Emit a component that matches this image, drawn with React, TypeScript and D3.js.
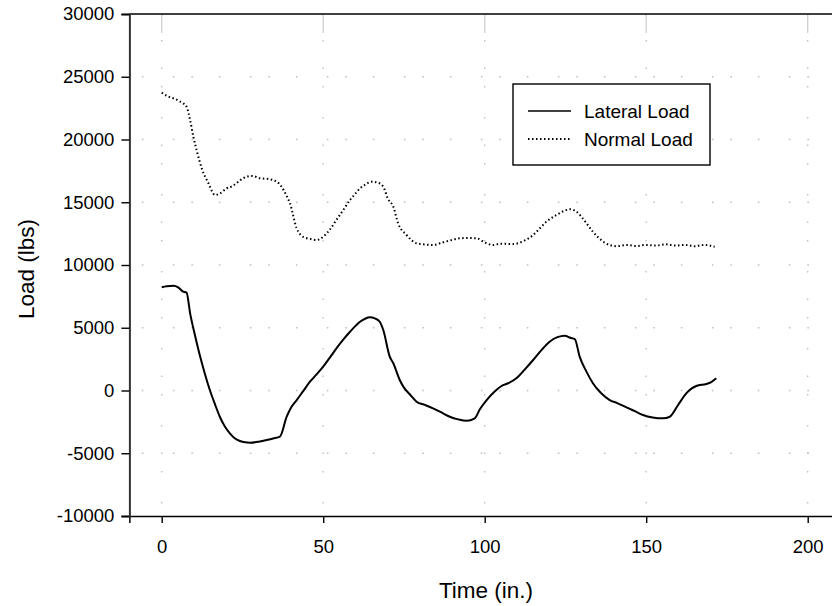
import React, { useEffect, useRef } from "react";
import * as d3 from "d3";

// readings
const timeLateral = [
  0, 1.5, 3.6, 5.1, 6.5, 7.7, 8.8, 10.3, 11.9, 13.4, 14.9, 16.5, 18, 19.5, 21.1, 22.6, 24.2, 25.8, 27.3, 30,
  32.5, 34.5, 36.6, 38.7, 40.2, 41.8, 43.8, 45.9, 48, 50, 52, 54.1, 56.2, 58.3, 60, 61.4, 63, 64.4, 66, 67.5,
  68.6, 70.6, 71.7, 73.7, 74.8, 76.8, 78.9, 81.5, 84, 86.6, 89.2, 91.8, 94.4, 96.9, 98.5, 100.6, 103, 105.2,
  107.5, 109.8, 112.5, 115, 117.5, 120.1, 122.5, 124.8, 126.5, 127.9, 129.4, 131.5, 133.5, 136, 138.7, 141,
  143.9, 146.5, 149, 152, 155.2, 157.3, 160, 162.4, 164, 165.5, 168.6, 170, 171.7,
];
const lateralLoad = [
  8220, 8300, 8350, 8220, 7900, 7800, 6150, 4400, 2700, 1300, 40, -1100, -2090, -2850, -3410, -3800, -4020,
  -4130, -4160, -4080, -3940, -3820, -3680, -2090, -1300, -760, -50, 700, 1300, 1900, 2600, 3360, 4050, 4680,
  5150, 5480, 5720, 5830, 5750, 5480, 4820, 2700, 2170, 840, 310, -300, -890, -1150, -1420, -1750, -2090,
  -2300, -2410, -2220, -1500, -760, -100, 360, 600, 970, 1700, 2430, 3200, 3890, 4250, 4370, 4200, 4100,
  2700, 1500, 580, -200, -760, -1000, -1340, -1650, -1950, -2150, -2220, -2090, -1100, -230, 150, 360, 520,
  650, 970,
];

const timeNormal = [
  0, 1.5, 2.6, 4, 5.5, 6.7, 7.7, 8.8, 9.8, 10.8, 12.4, 14.5, 16.5, 18, 20.1, 22, 24, 26.3, 28, 30.4, 33, 35.6,
  37.1, 38.5, 39.7, 41.8, 43, 44.9, 46.5, 48, 50, 52, 54.1, 56, 58.3, 60, 61.4, 63, 65, 67, 68.6, 70, 71.7,
  73.2, 75.8, 78.9, 81, 84, 87, 90, 92.3, 95, 97.5, 100, 102.6, 105, 108.8, 112, 115, 117, 119.1, 122, 125.3,
  126.5, 128.4, 131, 133.5, 136, 138.7, 141, 144, 147, 150, 153, 156, 159, 162, 165, 168, 171.2,
];
const normalLoad = [
  23730, 23500, 23360, 23250, 23050, 22880, 22610, 21550, 20220, 19160, 17700, 16500, 15580, 15700, 16110,
  16300, 16700, 17040, 17100, 16910, 16850, 16640, 16240, 15600, 14920, 12920, 12400, 12130, 12050, 11990,
  12250, 12800, 13590, 14300, 15180, 15700, 16110, 16400, 16640, 16550, 16240, 15300, 14650, 13320, 12390,
  11730, 11650, 11590, 11800, 12000, 12130, 12150, 12130, 11800, 11590, 11700, 11670, 11900, 12390, 12900,
  13450, 13950, 14380, 14450, 14250, 13500, 12650, 12000, 11590, 11500, 11600, 11510, 11600, 11550, 11650,
  11550, 11600, 11500, 11600, 11450,
];

const xTicks = [0, 50, 100, 150, 200];
const yTicks = [-10000, -5000, 0, 5000, 10000, 15000, 20000, 25000, 30000];
const legendLabels = ["Lateral Load", "Normal Load"];

const W = 832;
const H = 606;
const font = "Arial, 'Liberation Sans', sans-serif";
const gridDash = "1.5,29.5,1.5,17,1.5,26";
const fmt = (d: d3.NumberValue) => String(d);

const App = () => {
  const svgRef = useRef<SVGSVGElement>(null);

  useEffect(() => {
    const svg = d3.select(svgRef.current);
    svg.selectAll("*").remove();

    const x = d3.scaleLinear().domain([-10, 210]).range([129.4, 840]);
    const y = d3.scaleLinear().domain([-10000, 30000]).range([516, 14]);

    // grid
    const grid = svg.append("g");
    grid
      .selectAll("line.hg")
      .data(yTicks.slice(1, -1))
      .join("line")
      .attr("x1", x(-10))
      .attr("x2", x(210))
      .attr("y1", (d) => y(d))
      .attr("y2", (d) => y(d))
      .attr("stroke", "#bdbdbd")
      .attr("stroke-width", 1.3)
      .attr("stroke-dasharray", gridDash)
      .attr("stroke-dashoffset", 64.5);
    grid
      .selectAll("line.vg")
      .data(xTicks)
      .join("line")
      .attr("x1", (d) => x(d))
      .attr("x2", (d) => x(d))
      .attr("y1", y(-10000))
      .attr("y2", y(30000))
      .attr("stroke", "#bdbdbd")
      .attr("stroke-width", 1.3)
      .attr("stroke-dasharray", gridDash)
      .attr("stroke-dashoffset", 64.5);
    grid
      .selectAll("line.tt")
      .data(xTicks)
      .join("line")
      .attr("x1", (d) => x(d))
      .attr("x2", (d) => x(d))
      .attr("y1", y(30000))
      .attr("y2", y(30000) + 19)
      .attr("stroke", "#cfcfcf")
      .attr("stroke-width", 1.3);

    // frame
    svg
      .append("line")
      .attr("x1", x(-10))
      .attr("x2", x(210))
      .attr("y1", y(30000))
      .attr("y2", y(30000))
      .attr("stroke", "#000")
      .attr("stroke-width", 1.4);

    const xAxis = svg
      .append("g")
      .attr("transform", `translate(0,${y(-10000)})`)
      .call(d3.axisBottom(x).tickValues(xTicks).tickSize(7).tickPadding(17).tickFormat(fmt));
    xAxis.select(".domain").attr("stroke", "#000").attr("stroke-width", 1.5);
    xAxis.selectAll(".tick line").attr("stroke", "#000").attr("stroke-width", 1.4);
    xAxis
      .selectAll(".tick text")
      .attr("font-family", font)
      .attr("font-size", 18.5)
      .attr("fill", "#000");

    const yAxis = svg
      .append("g")
      .attr("transform", `translate(${x(-10)},0)`)
      .call(d3.axisLeft(y).tickValues(yTicks).tickSize(8).tickPadding(7).tickFormat(fmt));
    yAxis.select(".domain").attr("stroke", "#333").attr("stroke-width", 2);
    yAxis.selectAll(".tick line").attr("stroke", "#000").attr("stroke-width", 1.4);
    yAxis
      .selectAll(".tick text")
      .attr("font-family", font)
      .attr("font-size", 18.5)
      .attr("fill", "#000");

    // series
    const lateral = timeLateral.map((t, i) => [t, lateralLoad[i]] as [number, number]);
    const normal = timeNormal.map((t, i) => [t, normalLoad[i]] as [number, number]);
    const line = d3
      .line<[number, number]>()
      .x((d) => x(d[0]))
      .y((d) => y(d[1]))
      .curve(d3.curveMonotoneX);

    svg
      .append("path")
      .datum(normal)
      .attr("d", line)
      .attr("fill", "none")
      .attr("stroke", "#000")
      .attr("stroke-width", 2)
      .attr("stroke-dasharray", "1.5,2.5");

    svg
      .append("path")
      .datum(lateral)
      .attr("d", line)
      .attr("fill", "none")
      .attr("stroke", "#000")
      .attr("stroke-width", 2);

    // axis titles
    svg
      .append("text")
      .attr("x", 486)
      .attr("y", 598)
      .attr("text-anchor", "middle")
      .attr("font-family", font)
      .attr("font-size", 22.5)
      .text("Time (in.)");
    svg
      .append("text")
      .attr("transform", `translate(34,269) rotate(-90)`)
      .attr("text-anchor", "middle")
      .attr("font-family", font)
      .attr("font-size", 22.5)
      .text("Load (lbs)");

    // legend
    const lg = svg.append("g");
    lg.append("rect")
      .attr("x", 513)
      .attr("y", 84)
      .attr("width", 197)
      .attr("height", 81)
      .attr("fill", "#fff")
      .attr("stroke", "#000")
      .attr("stroke-width", 1.4);
    legendLabels.forEach((label, i) => {
      const ly = 111 + i * 28;
      lg.append("line")
        .attr("x1", 528)
        .attr("x2", 571)
        .attr("y1", ly)
        .attr("y2", ly)
        .attr("stroke", "#000")
        .attr("stroke-width", i === 0 ? 1.5 : 2)
        .attr("stroke-dasharray", i === 0 ? null : "1.5,2.5");
      lg.append("text")
        .attr("x", 584)
        .attr("y", ly + 6.5)
        .attr("font-family", font)
        .attr("font-size", 19)
        .text(label);
    });
  }, []);

  return (
    <div style={{ position: "absolute", left: 0, top: 0 }}>
      <svg ref={svgRef} width={W} height={H} style={{ display: "block", background: "#fff" }}></svg>
    </div>
  );
};

export default App;
